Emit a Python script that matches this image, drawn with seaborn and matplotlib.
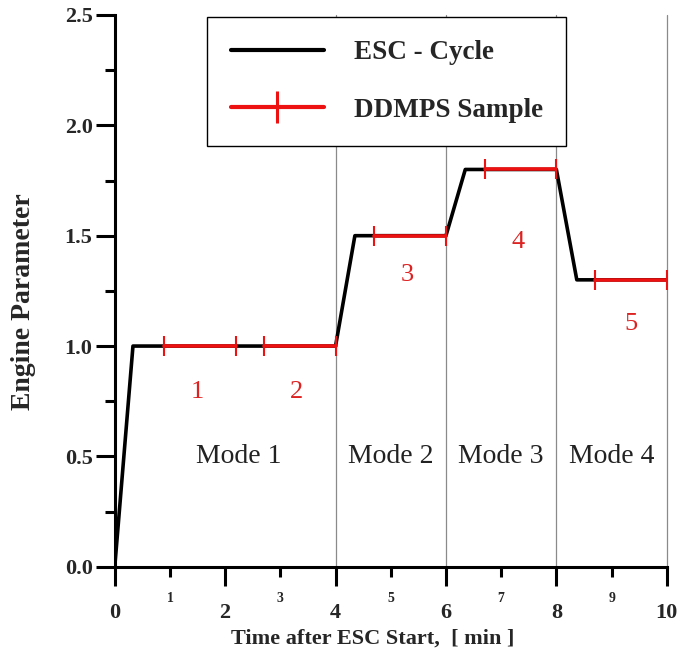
import matplotlib
matplotlib.use("Agg")
import matplotlib.pyplot as plt
from matplotlib.lines import Line2D
from matplotlib.ticker import MultipleLocator, FixedLocator, FixedFormatter
import pandas as pd
import seaborn as sns

# ESC test cycle trace (time in min, normalised engine parameter)
cycle_t = [0.0, 0.33, 4.0, 4.35, 6.0, 6.35, 8.0, 8.37, 10.0]
cycle_v = [0.0, 1.0, 1.0, 1.5, 1.5, 1.8, 1.8, 1.3, 1.3]

# DDMPS sampling windows (start/end of each sample)
sample_t = [0.9, 2.2, 2.7, 4.0, 4.7, 6.0, 6.7, 8.0, 8.7, 10.0]
sample_v = [1.0, 1.0, 1.0, 1.0, 1.5, 1.5, 1.8, 1.8, 1.3, 1.3]
sample_id = [1, 1, 2, 2, 3, 3, 4, 4, 5, 5]

# sample numbers and their label positions
sample_labels = ["1", "2", "3", "4", "5"]
sample_label_x = [1.5, 3.3, 5.3, 7.3, 9.35]
sample_label_y = [0.79, 0.79, 1.32, 1.47, 1.1]

# operating modes
mode_labels = ["Mode 1", "Mode 2", "Mode 3", "Mode 4"]
mode_label_x = [2.25, 5.0, 7.0, 9.0]
mode_label_y = 0.5
mode_bounds = [4, 6, 8, 10]

major_x = [0, 2, 4, 6, 8, 10]
minor_x = [1, 3, 5, 7, 9]

RED = "#ee1111"

sns.set_theme(style="ticks")
serif = ["Liberation Serif", "DejaVu Serif"]
plt.rcParams["font.family"] = serif

cycle_df = pd.DataFrame({"t": cycle_t, "v": cycle_v})
sample_df = pd.DataFrame({"t": sample_t, "v": sample_v, "id": sample_id})

fig = plt.figure(figsize=(6.79, 6.5), dpi=100)
ax = fig.add_axes([0.169, 0.128, 0.813, 0.849])

for xb in mode_bounds:
    ax.axvline(xb, color="#8a8a8a", lw=0.9, zorder=1, clip_on=False)

sns.lineplot(data=cycle_df, x="t", y="v", sort=False, color="black",
             lw=2.6, ax=ax, zorder=3)
sns.lineplot(data=sample_df, x="t", y="v", units="id", estimator=None,
             sort=False, color=RED, lw=2.6, marker="|",
             markersize=14, markeredgewidth=1.5, markeredgecolor=RED,
             ax=ax, zorder=4)

for lab, x, y in zip(sample_labels, sample_label_x, sample_label_y):
    ax.text(x, y, lab, color="#dd2222", fontsize=19, ha="center",
            va="center", family=serif)
for lab, x in zip(mode_labels, mode_label_x):
    ax.text(x, mode_label_y, lab, color="#222222", fontsize=20,
            ha="center", va="center", family=serif)

ax.set_xlim(0, 10)
ax.set_ylim(0, 2.5)
sns.despine(ax=ax)
for s in ("left", "bottom"):
    ax.spines[s].set_linewidth(2.2)
    ax.spines[s].set_color("black")

ax.xaxis.set_major_locator(FixedLocator(major_x))
ax.xaxis.set_minor_locator(FixedLocator(minor_x))
ax.xaxis.set_minor_formatter(FixedFormatter([str(v) for v in minor_x]))
ax.set_xticklabels([str(v) for v in major_x])
ax.yaxis.set_major_locator(MultipleLocator(0.5))
ax.yaxis.set_minor_locator(MultipleLocator(0.25))
ax.yaxis.set_major_formatter(plt.FuncFormatter(lambda v, p: f"{v:.1f}"))

ax.tick_params(axis="x", which="major", direction="out", length=14,
               width=2.2, color="black", labelsize=16, pad=12)
ax.tick_params(axis="x", which="minor", direction="out", length=7,
               width=2.2, color="black", labelsize=10, pad=11)
ax.tick_params(axis="y", which="major", direction="out", length=14,
               width=2.2, color="black", labelsize=16, pad=2)
ax.tick_params(axis="y", which="minor", direction="out", length=7,
               width=2.2, color="black")
for lbl in ax.get_xticklabels(which="both") + ax.get_yticklabels():
    lbl.set_fontweight("bold")

ax.set_xlabel("Time after ESC Start,  [ min ]", fontsize=16,
              fontweight="bold")
ax.xaxis.set_label_coords(0.467, -0.112)
ax.set_ylabel("Engine Parameter", fontsize=20, fontweight="bold")
ax.yaxis.set_label_coords(-0.143, 0.48)

handles = [
    Line2D([], [], color="black", lw=3),
    Line2D([], [], color=RED, lw=3, marker="|", markersize=23,
           markeredgewidth=2.2),
]
leg = ax.legend(handles, ["ESC - Cycle", "DDMPS Sample"], loc="upper left",
                bbox_to_anchor=(0.168, 0.996), borderaxespad=0,
                fancybox=False, framealpha=1, edgecolor="black",
                prop={"family": serif, "weight": "bold", "size": 19.5},
                handlelength=3.45, handletextpad=1.1, labelspacing=1.2,
                borderpad=0.85)
leg.get_frame().set_linewidth(1.0)

fig.savefig("out.png", dpi=100)
